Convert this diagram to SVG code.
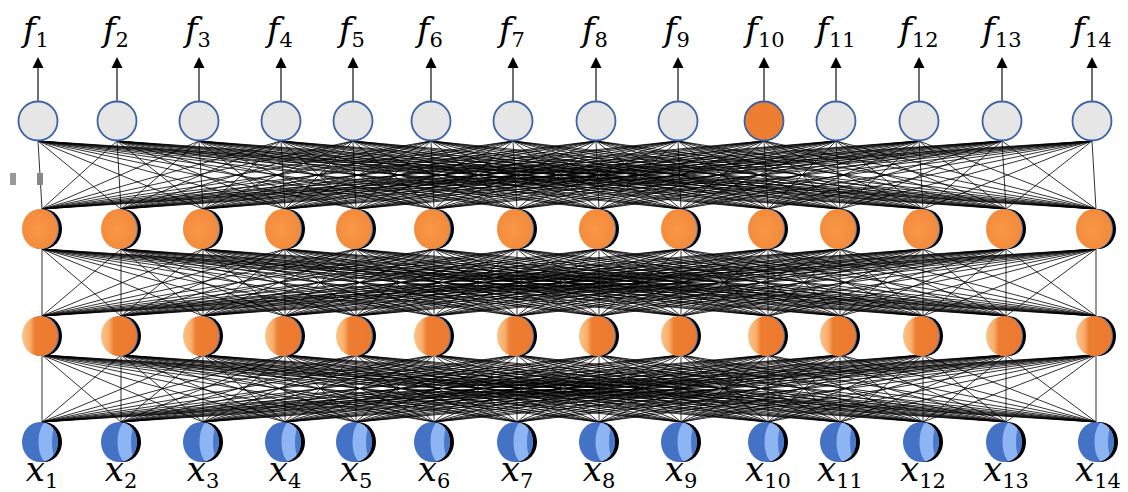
<svg xmlns="http://www.w3.org/2000/svg" width="1128" height="492" viewBox="0 0 1128 492">
<style>
.w{fill:none;stroke:#000;stroke-width:0.9;stroke-opacity:0.9}
.ar{stroke:#222;stroke-width:1.3;marker-end:url(#ah)}
.out{fill:#E7E6E6;stroke:#3A62A7;stroke-width:1.8}
.lab{font-family:"DejaVu Serif",serif;font-style:italic;font-size:34px;fill:#000;text-anchor:middle}
.sub{font-style:normal;font-size:21px}
</style>
<defs>
<marker id="ah" markerUnits="userSpaceOnUse" markerWidth="12" markerHeight="11" refX="0" refY="5.5" orient="auto" overflow="visible"><path d="M0 0L11 5.5L0 11z" fill="#000"/></marker>
<radialGradient id="gH1" cx="0.45" cy="0.5" r="0.55"><stop offset="0" stop-color="#F99847"/><stop offset="1" stop-color="#F28A3A"/></radialGradient>
<linearGradient id="gH2" x1="0" y1="0" x2="1" y2="0"><stop offset="0" stop-color="#FCC487"/><stop offset="0.22" stop-color="#F9AE6C"/><stop offset="0.36" stop-color="#ED7D31"/><stop offset="1" stop-color="#EC7A2E"/></linearGradient>
<clipPath id="cIn"><ellipse cx="-2" cy="0" rx="18" ry="20"/></clipPath>
<g id="sH1"><ellipse cx="2" rx="18" ry="20" fill="#000"/><ellipse cx="-1" rx="18" ry="20" fill="#4472C4"/><ellipse cx="-2" rx="18" ry="20" fill="url(#gH1)"/></g>
<g id="sH2"><ellipse cx="2" rx="18" ry="20" fill="#000"/><ellipse cx="-1" rx="18" ry="20" fill="#4472C4"/><ellipse cx="-2" rx="18" ry="20" fill="url(#gH2)"/></g>
<g id="sIn"><ellipse cx="2" rx="18" ry="20" fill="#000"/><ellipse cx="-2" rx="18" ry="20" fill="#4472C4"/><g clip-path="url(#cIn)"><ellipse cx="6" rx="9.5" ry="21" fill="#8DB4F3"/><ellipse cx="13.5" rx="3.5" ry="15" fill="#4A78CB"/></g></g>
<path id="mid" class="w" d="M42 0 42 67M42 0 121 67M42 0 203 67M42 0 285 67M42 0 356 67M42 0 434 67M42 0 517 67M42 0 599 67M42 0 681 67M42 0 768 67M42 0 840 67M42 0 923 67M42 0 1006 67M42 0 1096 67
M121 0 42 67M121 0 121 67M121 0 203 67M121 0 285 67M121 0 356 67M121 0 434 67M121 0 517 67M121 0 599 67M121 0 681 67M121 0 768 67M121 0 840 67M121 0 923 67M121 0 1006 67M121 0 1096 67
M203 0 42 67M203 0 121 67M203 0 203 67M203 0 285 67M203 0 356 67M203 0 434 67M203 0 517 67M203 0 599 67M203 0 681 67M203 0 768 67M203 0 840 67M203 0 923 67M203 0 1006 67M203 0 1096 67
M285 0 42 67M285 0 121 67M285 0 203 67M285 0 285 67M285 0 356 67M285 0 434 67M285 0 517 67M285 0 599 67M285 0 681 67M285 0 768 67M285 0 840 67M285 0 923 67M285 0 1006 67M285 0 1096 67
M356 0 42 67M356 0 121 67M356 0 203 67M356 0 285 67M356 0 356 67M356 0 434 67M356 0 517 67M356 0 599 67M356 0 681 67M356 0 768 67M356 0 840 67M356 0 923 67M356 0 1006 67M356 0 1096 67
M434 0 42 67M434 0 121 67M434 0 203 67M434 0 285 67M434 0 356 67M434 0 434 67M434 0 517 67M434 0 599 67M434 0 681 67M434 0 768 67M434 0 840 67M434 0 923 67M434 0 1006 67M434 0 1096 67
M517 0 42 67M517 0 121 67M517 0 203 67M517 0 285 67M517 0 356 67M517 0 434 67M517 0 517 67M517 0 599 67M517 0 681 67M517 0 768 67M517 0 840 67M517 0 923 67M517 0 1006 67M517 0 1096 67
M599 0 42 67M599 0 121 67M599 0 203 67M599 0 285 67M599 0 356 67M599 0 434 67M599 0 517 67M599 0 599 67M599 0 681 67M599 0 768 67M599 0 840 67M599 0 923 67M599 0 1006 67M599 0 1096 67
M681 0 42 67M681 0 121 67M681 0 203 67M681 0 285 67M681 0 356 67M681 0 434 67M681 0 517 67M681 0 599 67M681 0 681 67M681 0 768 67M681 0 840 67M681 0 923 67M681 0 1006 67M681 0 1096 67
M768 0 42 67M768 0 121 67M768 0 203 67M768 0 285 67M768 0 356 67M768 0 434 67M768 0 517 67M768 0 599 67M768 0 681 67M768 0 768 67M768 0 840 67M768 0 923 67M768 0 1006 67M768 0 1096 67
M840 0 42 67M840 0 121 67M840 0 203 67M840 0 285 67M840 0 356 67M840 0 434 67M840 0 517 67M840 0 599 67M840 0 681 67M840 0 768 67M840 0 840 67M840 0 923 67M840 0 1006 67M840 0 1096 67
M923 0 42 67M923 0 121 67M923 0 203 67M923 0 285 67M923 0 356 67M923 0 434 67M923 0 517 67M923 0 599 67M923 0 681 67M923 0 768 67M923 0 840 67M923 0 923 67M923 0 1006 67M923 0 1096 67
M1006 0 42 67M1006 0 121 67M1006 0 203 67M1006 0 285 67M1006 0 356 67M1006 0 434 67M1006 0 517 67M1006 0 599 67M1006 0 681 67M1006 0 768 67M1006 0 840 67M1006 0 923 67M1006 0 1006 67M1006 0 1096 67
M1096 0 42 67M1096 0 121 67M1096 0 203 67M1096 0 285 67M1096 0 356 67M1096 0 434 67M1096 0 517 67M1096 0 599 67M1096 0 681 67M1096 0 768 67M1096 0 840 67M1096 0 923 67M1096 0 1006 67M1096 0 1096 67"/>
</defs>
<rect width="1128" height="492" fill="#fff"/>
<g id="connectors">
<path class="w" transform="translate(0,141)" d="M38 0 42 68M38 0 121 68M38 0 203 68M38 0 285 68M38 0 356 68M38 0 434 68M38 0 517 68M38 0 599 68M38 0 681 68M38 0 768 68M38 0 840 68M38 0 923 68M38 0 1006 68M38 0 1096 68
M117 0 42 68M117 0 121 68M117 0 203 68M117 0 285 68M117 0 356 68M117 0 434 68M117 0 517 68M117 0 599 68M117 0 681 68M117 0 768 68M117 0 840 68M117 0 923 68M117 0 1006 68M117 0 1096 68
M199 0 42 68M199 0 121 68M199 0 203 68M199 0 285 68M199 0 356 68M199 0 434 68M199 0 517 68M199 0 599 68M199 0 681 68M199 0 768 68M199 0 840 68M199 0 923 68M199 0 1006 68M199 0 1096 68
M281 0 42 68M281 0 121 68M281 0 203 68M281 0 285 68M281 0 356 68M281 0 434 68M281 0 517 68M281 0 599 68M281 0 681 68M281 0 768 68M281 0 840 68M281 0 923 68M281 0 1006 68M281 0 1096 68
M353 0 42 68M353 0 121 68M353 0 203 68M353 0 285 68M353 0 356 68M353 0 434 68M353 0 517 68M353 0 599 68M353 0 681 68M353 0 768 68M353 0 840 68M353 0 923 68M353 0 1006 68M353 0 1096 68
M431 0 42 68M431 0 121 68M431 0 203 68M431 0 285 68M431 0 356 68M431 0 434 68M431 0 517 68M431 0 599 68M431 0 681 68M431 0 768 68M431 0 840 68M431 0 923 68M431 0 1006 68M431 0 1096 68
M513 0 42 68M513 0 121 68M513 0 203 68M513 0 285 68M513 0 356 68M513 0 434 68M513 0 517 68M513 0 599 68M513 0 681 68M513 0 768 68M513 0 840 68M513 0 923 68M513 0 1006 68M513 0 1096 68
M596 0 42 68M596 0 121 68M596 0 203 68M596 0 285 68M596 0 356 68M596 0 434 68M596 0 517 68M596 0 599 68M596 0 681 68M596 0 768 68M596 0 840 68M596 0 923 68M596 0 1006 68M596 0 1096 68
M678 0 42 68M678 0 121 68M678 0 203 68M678 0 285 68M678 0 356 68M678 0 434 68M678 0 517 68M678 0 599 68M678 0 681 68M678 0 768 68M678 0 840 68M678 0 923 68M678 0 1006 68M678 0 1096 68
M764 0 42 68M764 0 121 68M764 0 203 68M764 0 285 68M764 0 356 68M764 0 434 68M764 0 517 68M764 0 599 68M764 0 681 68M764 0 768 68M764 0 840 68M764 0 923 68M764 0 1006 68M764 0 1096 68
M836 0 42 68M836 0 121 68M836 0 203 68M836 0 285 68M836 0 356 68M836 0 434 68M836 0 517 68M836 0 599 68M836 0 681 68M836 0 768 68M836 0 840 68M836 0 923 68M836 0 1006 68M836 0 1096 68
M919 0 42 68M919 0 121 68M919 0 203 68M919 0 285 68M919 0 356 68M919 0 434 68M919 0 517 68M919 0 599 68M919 0 681 68M919 0 768 68M919 0 840 68M919 0 923 68M919 0 1006 68M919 0 1096 68
M1002 0 42 68M1002 0 121 68M1002 0 203 68M1002 0 285 68M1002 0 356 68M1002 0 434 68M1002 0 517 68M1002 0 599 68M1002 0 681 68M1002 0 768 68M1002 0 840 68M1002 0 923 68M1002 0 1006 68M1002 0 1096 68
M1092 0 42 68M1092 0 121 68M1092 0 203 68M1092 0 285 68M1092 0 356 68M1092 0 434 68M1092 0 517 68M1092 0 599 68M1092 0 681 68M1092 0 768 68M1092 0 840 68M1092 0 923 68M1092 0 1006 68M1092 0 1096 68"/>
<use href="#mid" transform="translate(0,249)"/>
<use href="#mid" transform="translate(0,355)"/>
<line class="ar" x1="38" y1="101" x2="38" y2="68"/>
<line class="ar" x1="117" y1="101" x2="117" y2="68"/>
<line class="ar" x1="199" y1="101" x2="199" y2="68"/>
<line class="ar" x1="281" y1="101" x2="281" y2="68"/>
<line class="ar" x1="353" y1="101" x2="353" y2="68"/>
<line class="ar" x1="431" y1="101" x2="431" y2="68"/>
<line class="ar" x1="513" y1="101" x2="513" y2="68"/>
<line class="ar" x1="596" y1="101" x2="596" y2="68"/>
<line class="ar" x1="678" y1="101" x2="678" y2="68"/>
<line class="ar" x1="764" y1="101" x2="764" y2="68"/>
<line class="ar" x1="836" y1="101" x2="836" y2="68"/>
<line class="ar" x1="919" y1="101" x2="919" y2="68"/>
<line class="ar" x1="1002" y1="101" x2="1002" y2="68"/>
<line class="ar" x1="1092" y1="101" x2="1092" y2="68"/>
</g>
<rect x="10" y="173" width="6" height="12" fill="#999"/>
<rect x="37" y="173" width="6" height="12" fill="#888"/>
<g id="f1"><circle class="out" cx="38" cy="121" r="19.5"/><text class="lab" x="36" y="41">f<tspan class="sub" dy="6">1</tspan></text></g>
<g id="f2"><circle class="out" cx="117" cy="121" r="19.5"/><text class="lab" x="116" y="41">f<tspan class="sub" dy="6">2</tspan></text></g>
<g id="f3"><circle class="out" cx="199" cy="121" r="19.5"/><text class="lab" x="198" y="41">f<tspan class="sub" dy="6">3</tspan></text></g>
<g id="f4"><circle class="out" cx="281" cy="121" r="19.5"/><text class="lab" x="280" y="41">f<tspan class="sub" dy="6">4</tspan></text></g>
<g id="f5"><circle class="out" cx="353" cy="121" r="19.5"/><text class="lab" x="352" y="41">f<tspan class="sub" dy="6">5</tspan></text></g>
<g id="f6"><circle class="out" cx="431" cy="121" r="19.5"/><text class="lab" x="430" y="41">f<tspan class="sub" dy="6">6</tspan></text></g>
<g id="f7"><circle class="out" cx="513" cy="121" r="19.5"/><text class="lab" x="512" y="41">f<tspan class="sub" dy="6">7</tspan></text></g>
<g id="f8"><circle class="out" cx="596" cy="121" r="19.5"/><text class="lab" x="595" y="41">f<tspan class="sub" dy="6">8</tspan></text></g>
<g id="f9"><circle class="out" cx="678" cy="121" r="19.5"/><text class="lab" x="677" y="41">f<tspan class="sub" dy="6">9</tspan></text></g>
<g id="f10"><circle class="out" cx="764" cy="121" r="19.5" style="fill:#ED7D31"/><text class="lab" x="765" y="41">f<tspan class="sub" dy="6">10</tspan></text></g>
<g id="f11"><circle class="out" cx="836" cy="121" r="19.5"/><text class="lab" x="836" y="41">f<tspan class="sub" dy="6">11</tspan></text></g>
<g id="f12"><circle class="out" cx="919" cy="121" r="19.5"/><text class="lab" x="919" y="41">f<tspan class="sub" dy="6">12</tspan></text></g>
<g id="f13"><circle class="out" cx="1002" cy="121" r="19.5"/><text class="lab" x="1002" y="41">f<tspan class="sub" dy="6">13</tspan></text></g>
<g id="f14"><circle class="out" cx="1092" cy="121" r="19.5"/><text class="lab" x="1092" y="41">f<tspan class="sub" dy="6">14</tspan></text></g>
<g id="h1_1"><use href="#sH1" x="42" y="229"/></g>
<g id="h1_2"><use href="#sH1" x="121" y="229"/></g>
<g id="h1_3"><use href="#sH1" x="203" y="229"/></g>
<g id="h1_4"><use href="#sH1" x="285" y="229"/></g>
<g id="h1_5"><use href="#sH1" x="356" y="229"/></g>
<g id="h1_6"><use href="#sH1" x="434" y="229"/></g>
<g id="h1_7"><use href="#sH1" x="517" y="229"/></g>
<g id="h1_8"><use href="#sH1" x="599" y="229"/></g>
<g id="h1_9"><use href="#sH1" x="681" y="229"/></g>
<g id="h1_10"><use href="#sH1" x="768" y="229"/></g>
<g id="h1_11"><use href="#sH1" x="840" y="229"/></g>
<g id="h1_12"><use href="#sH1" x="923" y="229"/></g>
<g id="h1_13"><use href="#sH1" x="1006" y="229"/></g>
<g id="h1_14"><use href="#sH1" x="1096" y="229"/></g>
<g id="h2_1"><use href="#sH2" x="42" y="336"/></g>
<g id="h2_2"><use href="#sH2" x="121" y="336"/></g>
<g id="h2_3"><use href="#sH2" x="203" y="336"/></g>
<g id="h2_4"><use href="#sH2" x="285" y="336"/></g>
<g id="h2_5"><use href="#sH2" x="356" y="336"/></g>
<g id="h2_6"><use href="#sH2" x="434" y="336"/></g>
<g id="h2_7"><use href="#sH2" x="517" y="336"/></g>
<g id="h2_8"><use href="#sH2" x="599" y="336"/></g>
<g id="h2_9"><use href="#sH2" x="681" y="336"/></g>
<g id="h2_10"><use href="#sH2" x="768" y="336"/></g>
<g id="h2_11"><use href="#sH2" x="840" y="336"/></g>
<g id="h2_12"><use href="#sH2" x="923" y="336"/></g>
<g id="h2_13"><use href="#sH2" x="1006" y="336"/></g>
<g id="h2_14"><use href="#sH2" x="1096" y="336"/></g>
<g id="x1"><use href="#sIn" x="42" y="442"/><text class="lab" x="42" y="481">x<tspan class="sub" dy="7">1</tspan></text></g>
<g id="x2"><use href="#sIn" x="121" y="442"/><text class="lab" x="121" y="481">x<tspan class="sub" dy="7">2</tspan></text></g>
<g id="x3"><use href="#sIn" x="203" y="442"/><text class="lab" x="203" y="481">x<tspan class="sub" dy="7">3</tspan></text></g>
<g id="x4"><use href="#sIn" x="285" y="442"/><text class="lab" x="285" y="481">x<tspan class="sub" dy="7">4</tspan></text></g>
<g id="x5"><use href="#sIn" x="356" y="442"/><text class="lab" x="356" y="481">x<tspan class="sub" dy="7">5</tspan></text></g>
<g id="x6"><use href="#sIn" x="434" y="442"/><text class="lab" x="434" y="481">x<tspan class="sub" dy="7">6</tspan></text></g>
<g id="x7"><use href="#sIn" x="517" y="442"/><text class="lab" x="517" y="481">x<tspan class="sub" dy="7">7</tspan></text></g>
<g id="x8"><use href="#sIn" x="599" y="442"/><text class="lab" x="599" y="481">x<tspan class="sub" dy="7">8</tspan></text></g>
<g id="x9"><use href="#sIn" x="681" y="442"/><text class="lab" x="681" y="481">x<tspan class="sub" dy="7">9</tspan></text></g>
<g id="x10"><use href="#sIn" x="768" y="442"/><text class="lab" x="768" y="481">x<tspan class="sub" dy="7">10</tspan></text></g>
<g id="x11"><use href="#sIn" x="840" y="442"/><text class="lab" x="840" y="481">x<tspan class="sub" dy="7">11</tspan></text></g>
<g id="x12"><use href="#sIn" x="923" y="442"/><text class="lab" x="923" y="481">x<tspan class="sub" dy="7">12</tspan></text></g>
<g id="x13"><use href="#sIn" x="1006" y="442"/><text class="lab" x="1006" y="481">x<tspan class="sub" dy="7">13</tspan></text></g>
<g id="x14"><use href="#sIn" x="1098" y="442"/><text class="lab" x="1098" y="481">x<tspan class="sub" dy="7">14</tspan></text></g>
</svg>
